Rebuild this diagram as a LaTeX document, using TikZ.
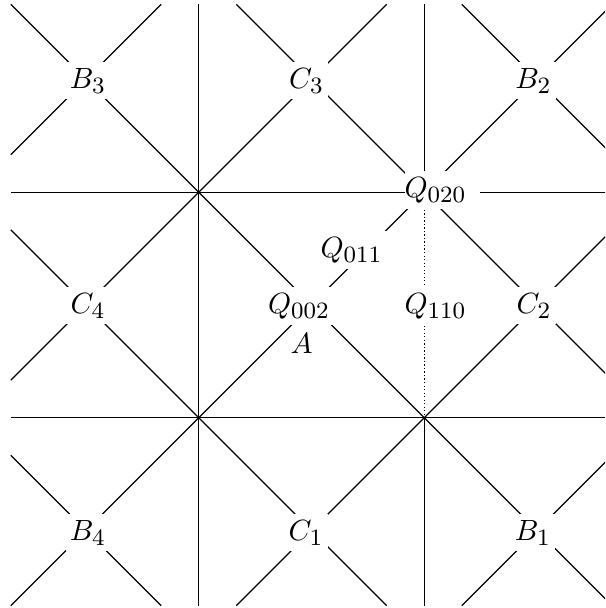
\documentclass[tikz,border=0pt]{standalone}
\DeclareMathSizes{10}{10}{8}{6}
\begin{document}
\begin{tikzpicture}[x=0.3415pt,y=-0.3415pt,line width=0.4pt,
  lbl/.style={fill=white,inner xsep=1.5pt,inner ysep=2pt,anchor=base},
  plainlbl/.style={inner sep=0pt,anchor=base},
  dotline/.style={dash pattern=on 0.4pt off 0.8pt}]
\useasboundingbox (0,0) rectangle (605,608);
\begin{scope}
\clip (0,0) rectangle (605,608);
\begin{scope}[shift={(311.5,305)},x=38.504pt,y=38.504pt]
  % horizontal and vertical lines
  \draw (-2.6667,1) -- (2.6667,1);
  \draw (-2.6667,-1) -- (2.6667,-1);
  \draw (-1,-2.6667) -- (-1,2.6667);
  \draw (1,1) -- (1,2.6667);
  \draw (1,-1) -- (1,-2.6667);
  \draw[dotline] (1,1) -- (1,-1);
  % slope -1
  \draw (-2.6667,2.6667) -- (2.6667,-2.6667);
  \draw (-0.6667,2.6667) -- (2.6667,-0.6667);
  \draw (-2.6667,0.6667) -- (0.6667,-2.6667);
  \draw (1.3333,2.6667) -- (2.6667,1.3333);
  \draw (-2.6667,-1.3333) -- (-1.3333,-2.6667);
  % slope +1
  \draw (-2.6667,-2.6667) -- (2.6667,2.6667);
  \draw (-2.6667,-0.6667) -- (0.6667,2.6667);
  \draw (-0.6667,-2.6667) -- (2.6667,0.6667);
  \draw (-2.6667,1.3333) -- (-1.3333,2.6667);
  \draw (1.3333,-2.6667) -- (2.6667,-1.3333);
\end{scope}
\end{scope}
% labels
\node[lbl] (B3) at (88,88.3) {$B_3$};
\node[lbl] (C3) at (306.5,88.3) {$C_3$};
\node[lbl] (B2) at (533.5,88.3) {$B_2$};
\node[lbl,inner xsep=0pt,anchor=base west] (Q020) at (404,197.3) {$Q_{020}$\kern4.5pt};
\node[lbl] (Q011) at (351.5,257.3) {$Q_{011}$};
\node[lbl] (C4) at (88,313) {$C_4$};
\node[lbl] (Q002) at (299,313) {$Q_{002}$};
\node[lbl] (Q110) at (435.5,313) {$Q_{110}$};
\node[lbl] (C2) at (534,313) {$C_2$};
\node[plainlbl] (A) at (301.5,353) {$A$};
\node[lbl] (B4) at (88,540) {$B_4$};
\node[lbl] (C1) at (306,540) {$C_1$};
\node[lbl] (B1) at (533,540) {$B_1$};
\end{tikzpicture}
\end{document}
